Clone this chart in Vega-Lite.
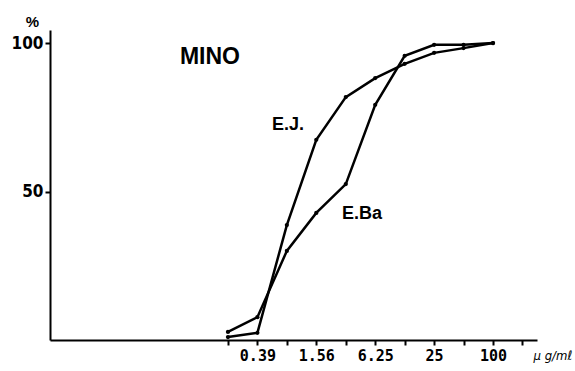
{
  "$schema": "https://vega.github.io/schema/vega-lite/v6.json",
  "width": 487,
  "height": 310,
  "autosize": "none",
  "padding": {"left": 50, "top": 30, "right": 38, "bottom": 31},
  "background": "white",
  "config": {
    "view": {"stroke": null},
    "axis": {"grid": false, "domainColor": "black", "tickColor": "black", "labelColor": "black", "titleColor": "black"}
  },
  "datasets": {
    "curves": [
      {"series": "E.J.", "conc": 0.195, "pct": 1.0},
      {"series": "E.J.", "conc": 0.39, "pct": 2.4},
      {"series": "E.J.", "conc": 0.78, "pct": 38.7},
      {"series": "E.J.", "conc": 1.56, "pct": 67.4},
      {"series": "E.J.", "conc": 3.125, "pct": 81.8},
      {"series": "E.J.", "conc": 6.25, "pct": 88.2},
      {"series": "E.J.", "conc": 12.5, "pct": 93.0},
      {"series": "E.J.", "conc": 25, "pct": 96.7},
      {"series": "E.J.", "conc": 50, "pct": 98.3},
      {"series": "E.J.", "conc": 100, "pct": 100},
      {"series": "E.Ba", "conc": 0.195, "pct": 2.7},
      {"series": "E.Ba", "conc": 0.39, "pct": 7.7},
      {"series": "E.Ba", "conc": 0.78, "pct": 30.0},
      {"series": "E.Ba", "conc": 1.56, "pct": 42.8},
      {"series": "E.Ba", "conc": 3.125, "pct": 52.5},
      {"series": "E.Ba", "conc": 6.25, "pct": 79.2},
      {"series": "E.Ba", "conc": 12.5, "pct": 95.7},
      {"series": "E.Ba", "conc": 25, "pct": 99.4},
      {"series": "E.Ba", "conc": 50, "pct": 99.4},
      {"series": "E.Ba", "conc": 100, "pct": 100}
    ],
    "labels": [
      {"label": "MINO", "conc": 0.1277, "pct": 95.3, "size": 23},
      {"label": "E.J.", "conc": 0.80, "pct": 72.4, "size": 18},
      {"label": "E.Ba", "conc": 4.57, "pct": 42.4, "size": 18}
    ]
  },
  "layer": [
    {
      "data": {"name": "curves"},
      "mark": {"type": "line", "color": "black", "strokeWidth": 2.5},
      "encoding": {
        "x": {
          "field": "conc", "type": "quantitative",
          "scale": {"type": "log", "base": 2, "domain": [0.002955, 281.7], "nice": false},
          "axis": {
            "values": [0.195, 0.39, 0.78, 1.56, 3.125, 6.25, 12.5, 25, 50, 100, 200],
            "labelExpr": "indexof([0.39,1.56,6.25,25,100], datum.value) >= 0 ? datum.value : ''",
            "domainWidth": 2, "tickWidth": 2, "tickSize": 5,
            "labelFont": "DejaVu Sans Mono", "labelFontSize": 15, "labelFontWeight": "bold",
            "labelPadding": 3, "labelFlush": false, "labelOverlap": false,
            "title": "μ g/mℓ", "titleFont": "DejaVu Sans Condensed", "titleFontSize": 13, "titleFontWeight": "normal", "titleFontStyle": "italic",
            "titleAnchor": "start", "titleAlign": "left", "titleBaseline": "middle",
            "titleX": 483, "titleY": 15
          }
        },
        "y": {
          "field": "pct", "type": "quantitative",
          "scale": {"domain": [0, 104.4], "nice": false},
          "axis": {
            "values": [50, 100],
            "domainWidth": 2, "tickWidth": 2, "tickSize": 5,
            "labelFont": "DejaVu Sans Condensed", "labelFontSize": 17, "labelFontWeight": "bold",
            "labelPadding": 2,
            "title": "%", "titleAngle": 0, "titleFont": "Liberation Sans", "titleFontSize": 15, "titleFontWeight": "bold",
            "titleAlign": "center", "titleBaseline": "middle", "titleX": -18, "titleY": -9
          }
        },
        "detail": {"field": "series"}
      }
    },
    {
      "data": {"name": "curves"},
      "mark": {"type": "point", "filled": true, "color": "black", "size": 18, "opacity": 1},
      "encoding": {
        "x": {"field": "conc", "type": "quantitative"},
        "y": {"field": "pct", "type": "quantitative"}
      }
    },
    {
      "data": {"name": "labels"},
      "mark": {"type": "text", "font": "Liberation Sans", "fontWeight": "bold", "color": "black", "align": "center", "baseline": "middle"},
      "encoding": {
        "x": {"field": "conc", "type": "quantitative"},
        "y": {"field": "pct", "type": "quantitative"},
        "text": {"field": "label"},
        "size": {"field": "size", "type": "quantitative", "scale": null}
      }
    }
  ]
}
